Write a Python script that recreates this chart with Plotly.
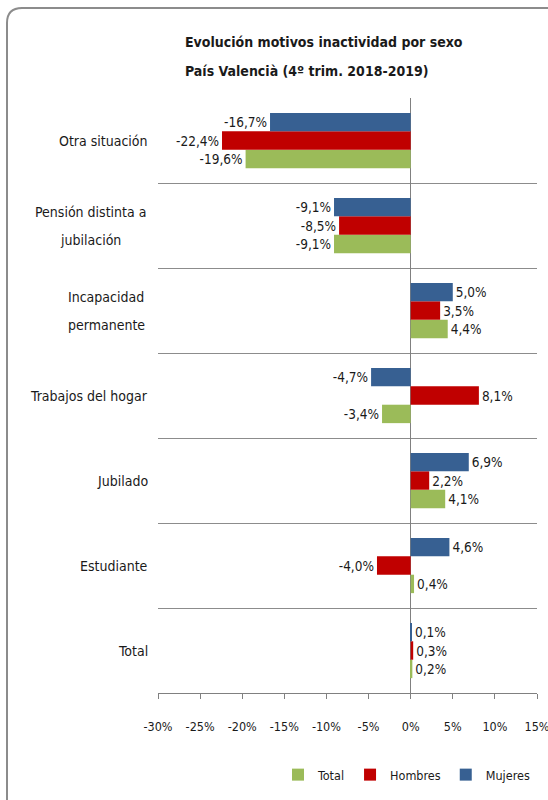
import plotly.graph_objects as go

# Categories listed bottom-to-top
categories = ["Total", "Estudiante", "Jubilado", "Trabajos del hogar",
              "Incapacidad permanente", "Pensión distinta a jubilación", "Otra situación"]
label_lines = {
    "Total": ["Total"],
    "Estudiante": ["Estudiante"],
    "Jubilado": ["Jubilado"],
    "Trabajos del hogar": ["Trabajos del hogar"],
    "Incapacidad permanente": ["Incapacidad", "permanente"],
    "Pensión distinta a jubilación": ["Pensión distinta a", "jubilación"],
    "Otra situación": ["Otra situación"],
}
total = [0.2, 0.4, 4.1, -3.4, 4.4, -9.1, -19.6]
hombres = [0.3, -4.0, 2.2, 8.1, 3.5, -8.5, -22.4]
mujeres = [0.1, 4.6, 6.9, -4.7, 5.0, -9.1, -16.7]
x_ticks = [-30, -25, -20, -15, -10, -5, 0, 5, 10, 15]

FONT = "DejaVu Sans Condensed, Liberation Sans Narrow, Roboto, sans-serif"
W, H = 548, 800
ML, MR, MT, MB = 158, 11, 98, 107
PW, PH = W - ML - MR, H - MT - MB


def px(x):
    return (x - ML) / PW


def py(y):
    return (H - MB - y) / PH


def fmt(v):
    return f"{v:.1f}%".replace(".", ",")


TXT = "#1a1a1a"
fig = go.Figure()
for name, vals, color in [("Total", total, "#9BBB59"),
                          ("Hombres", hombres, "#C00000"),
                          ("Mujeres", mujeres, "#376092")]:
    fig.add_trace(go.Bar(
        y=categories, x=vals, name=name, orientation="h",
        marker=dict(color=color, line=dict(width=0)),
        text=[fmt(v) for v in vals], textposition="outside",
        textfont=dict(family=FONT, size=13.5, color=TXT),
        constraintext="none", cliponaxis=False,
    ))

annotations = []
for txt, yy in [("<b>Evolución motivos inactividad por sexo</b>", 42),
                ("<b>País Valencià (4º trim. 2018-2019)</b>", 71)]:
    annotations.append(dict(x=px(183), y=py(yy), xref="paper", yref="paper", xanchor="left",
                            yanchor="middle", text=txt, showarrow=False,
                            font=dict(family=FONT, size=14, color=TXT)))

centers = {"Incapacidad permanente": 106, "Pensión distinta a jubilación": 90}
for cat in categories:
    lines = label_lines[cat]
    if len(lines) == 1:
        annotations.append(dict(x=px(150), y=cat, xref="paper", yref="y", xanchor="right",
                                yanchor="middle", text=lines[0], showarrow=False,
                                font=dict(family=FONT, size=14, color=TXT)))
    else:
        for i, ln in enumerate(lines):
            annotations.append(dict(x=px(centers[cat]), y=cat, xref="paper", yref="y",
                                    xanchor="center", yanchor="middle", yshift=14 - 28 * i,
                                    text=ln, showarrow=False,
                                    font=dict(family=FONT, size=14, color=TXT)))

# Outer rounded frame (top-left corner visible)
r_x, r_y = 15 / PW, 15 / PH
lx, ty = px(7), py(8)
path = f"M {lx},{py(815)} L {lx},{ty - r_y} Q {lx},{ty} {lx + r_x},{ty} L {px(570)},{ty}"

fig.update_layout(
    width=W, height=H,
    margin=dict(l=ML, r=MR, t=MT, b=MB, autoexpand=False),
    paper_bgcolor="white", plot_bgcolor="white",
    barmode="group", bargap=0.35, bargroupgap=0,
    font=dict(family=FONT, color=TXT),
    showlegend=True,
    legend=dict(orientation="h", x=px(535), y=py(775), xanchor="right", yanchor="middle",
                traceorder="normal", font=dict(family=FONT, size=12.5, color=TXT),
                itemwidth=30),
    annotations=annotations,
    shapes=[dict(type="path", path=path, xref="paper", yref="paper",
                 line=dict(color="#8c8c8c", width=2), layer="above")],
    xaxis=dict(range=[-30, 15], tickvals=x_ticks, ticktext=[f"{t}%" for t in x_ticks],
               showgrid=False, zeroline=True, zerolinecolor="#808080", zerolinewidth=1,
               showline=True, linecolor="#808080", linewidth=1,
               ticks="outside", ticklen=5, tickcolor="#808080",
               tickfont=dict(family=FONT, size=12.5, color=TXT), ticklabelstandoff=17,
               ticklabeloverflow="allow", automargin=False, fixedrange=True),
    yaxis=dict(categoryorder="array", categoryarray=categories, range=[-0.5, 6.5],
               showticklabels=False, tickson="boundaries", ticks="",
               showgrid=True, gridcolor="#8c8c8c", gridwidth=1,
               showline=False, zeroline=False, automargin=False, fixedrange=True),
)

fig.write_html("out.html", config={"displayModeBar": False},
               post_script="document.body.style.margin='0';document.body.style.overflow='hidden';")
